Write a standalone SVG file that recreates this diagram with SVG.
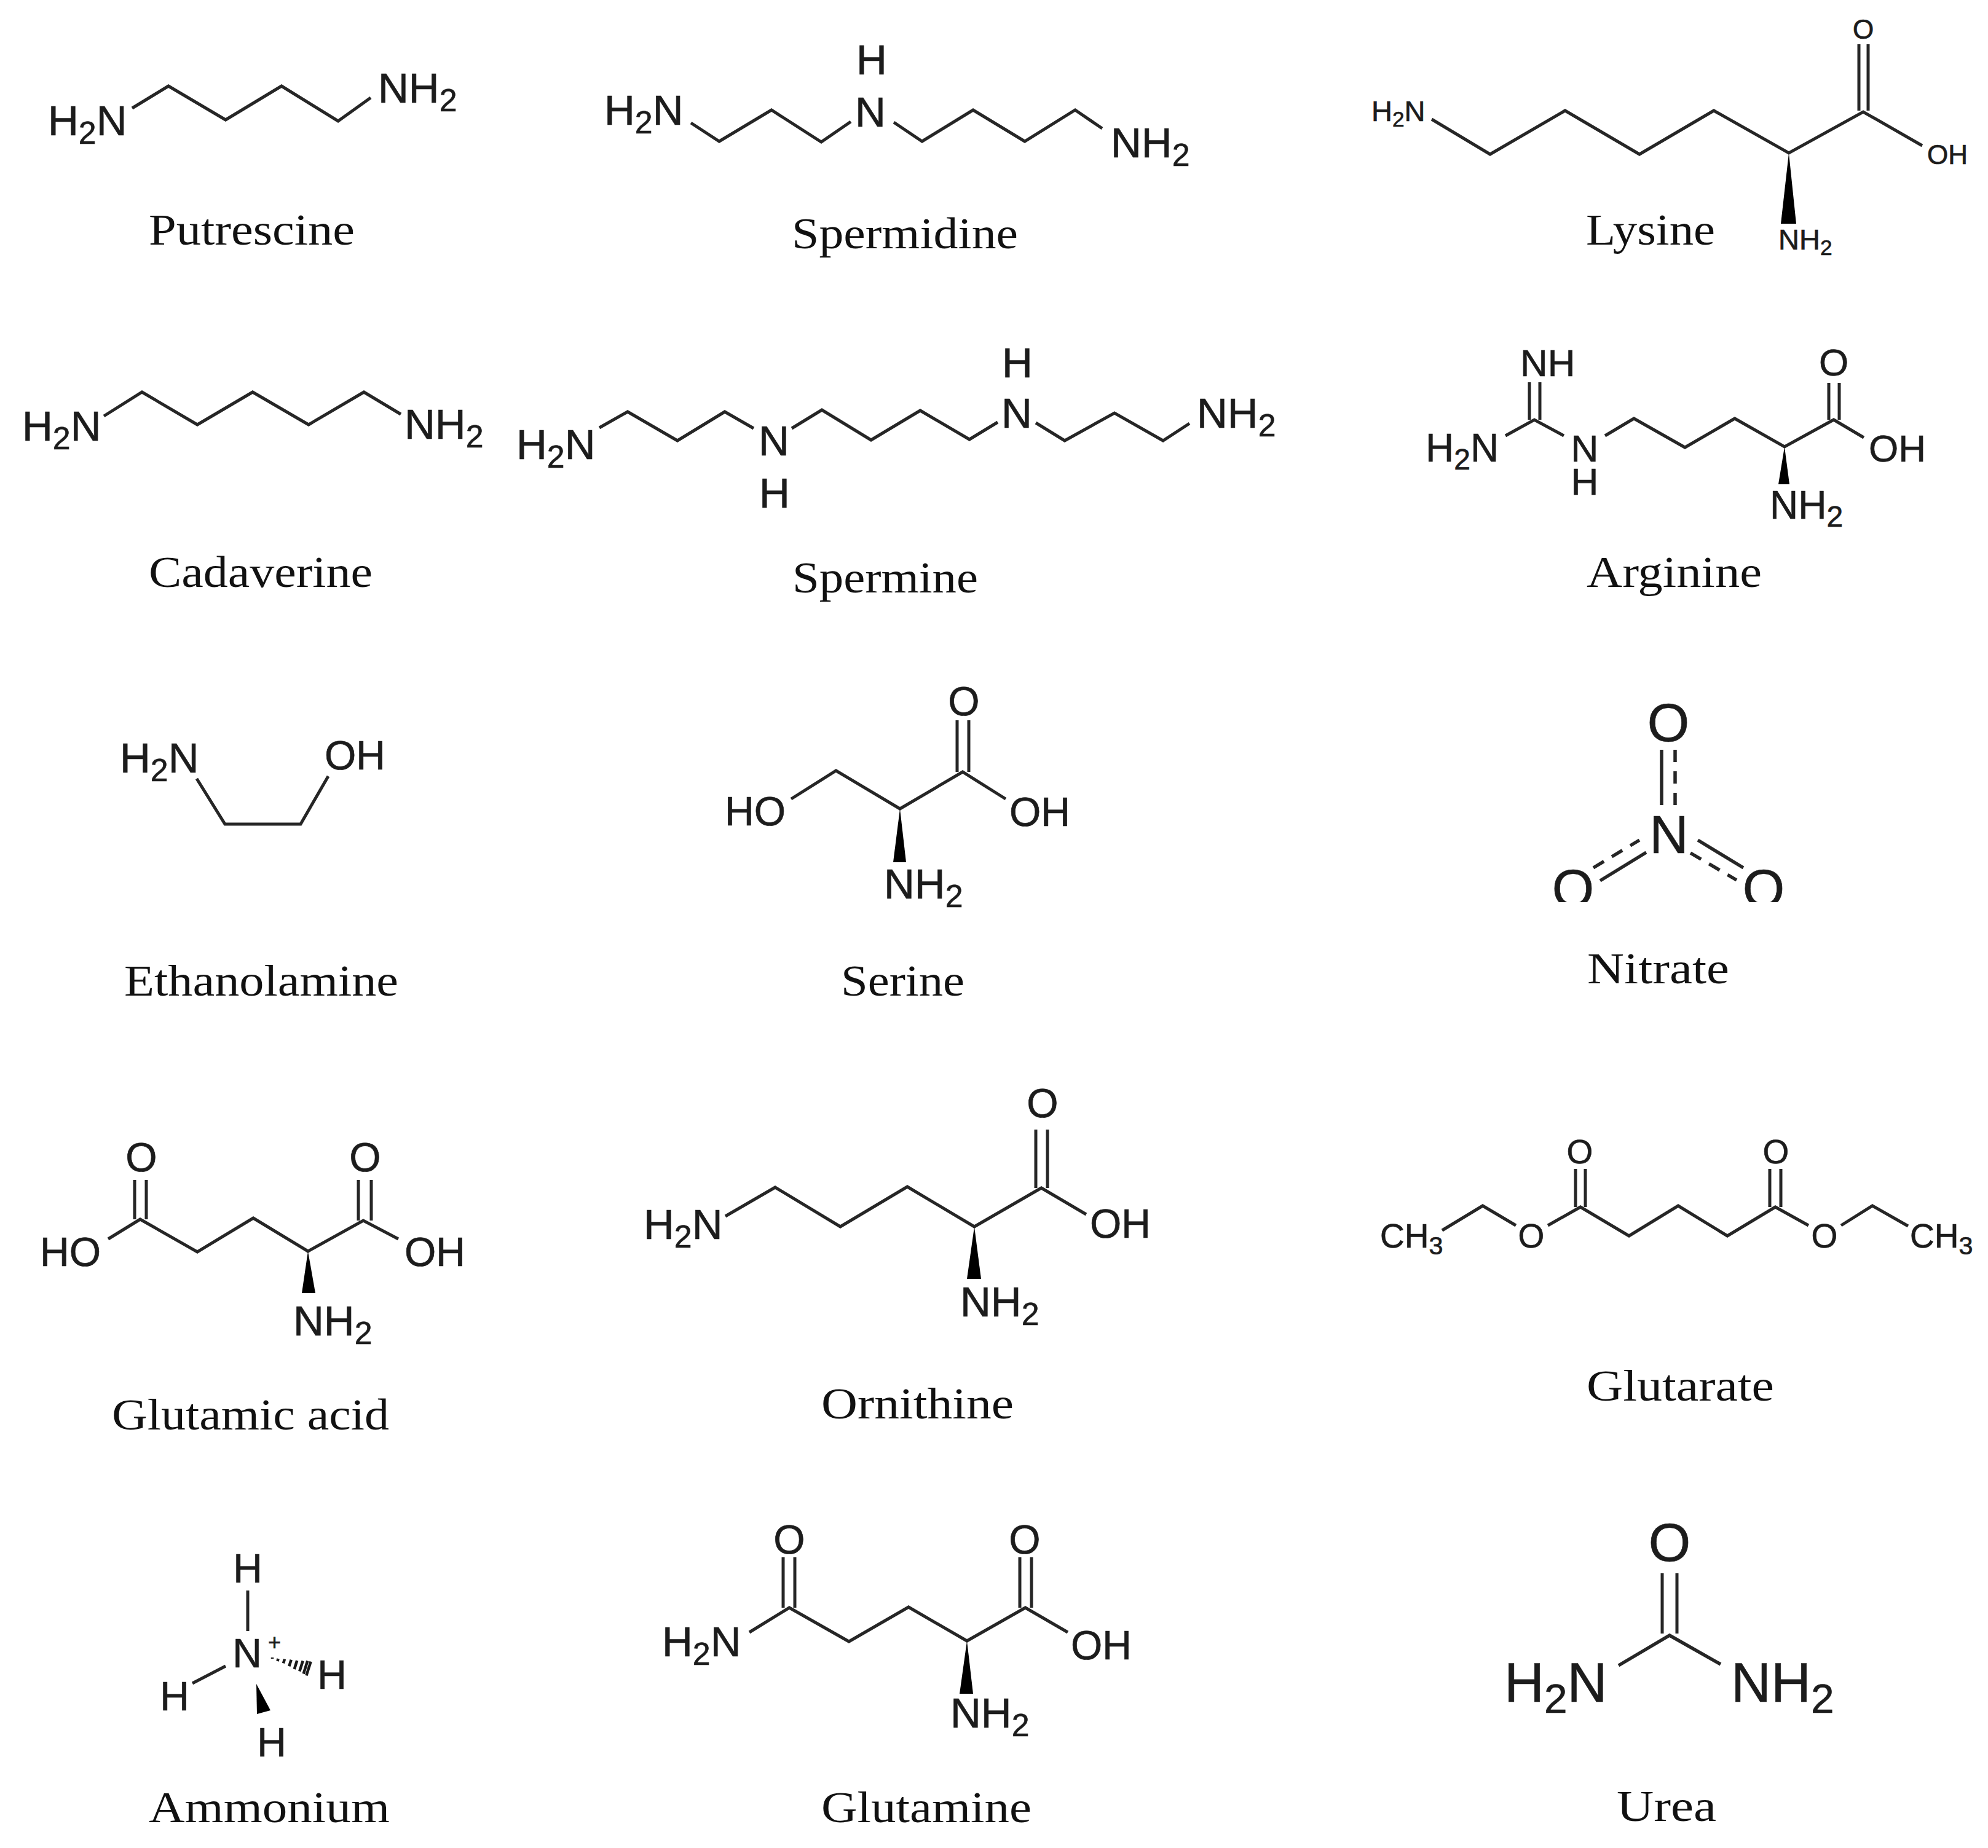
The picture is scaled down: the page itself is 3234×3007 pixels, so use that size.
<svg xmlns="http://www.w3.org/2000/svg" width="3234" height="3007" viewBox="0 0 3234 3007">
<style>
.b{fill:none;stroke:#262626;stroke-width:5;stroke-linejoin:miter}
.t{stroke:#1a1a1a;stroke-width:4.5}
.k{stroke:#262626;stroke-width:5.500}
.w{fill:#000}
text{fill:#1c1c1c}
.a{font-family:"Liberation Sans",Arial,sans-serif;stroke:#1c1c1c;stroke-width:.7}
.f44{font-size:44px}.f55{font-size:55px}.f62{font-size:62px}.f66{font-size:66px}.f88{font-size:88px}
.n44{font-size:47px}.n62{font-size:64px}.n66{font-size:69px}.n88{font-size:90px}
.m{text-anchor:middle}
.l{font-family:"Liberation Serif","Times New Roman",serif;font-size:72px;fill:#111}
.s{font-size:75%}
</style>
<defs><clipPath id="nc"><rect x="2450" y="1100" width="500" height="368"/></clipPath></defs>
<rect width="3234" height="3007" fill="#fff"/>

<g id="putrescine">
<polyline class="b" points="215,176 274,140 367,195 458,140 550,197 603,159"/>
<text class="a n66" x="78" y="220">H<tspan class="s" dy="14">2</tspan><tspan dy="-14">N</tspan></text>
<text class="a n66" x="615" y="167">NH<tspan class="s" dy="14">2</tspan></text>
<text class="l" x="242" y="398" textLength="335" lengthAdjust="spacingAndGlyphs">Putrescine</text>
</g>

<g id="spermidine">
<polyline class="b" points="1124,200 1170,230 1255,179 1336,231 1384,198"/>
<polyline class="b" points="1454,199 1500,230 1583,179 1667,230 1749,179 1793,209"/>
<text class="a n66" x="983" y="203">H<tspan class="s" dy="14">2</tspan><tspan dy="-14">N</tspan></text>
<text class="a n66 m" x="1416" y="206">N</text>
<text class="a n66 m" x="1418" y="121">H</text>
<text class="a n66" x="1807" y="256">NH<tspan class="s" dy="14">2</tspan></text>
<text class="l" x="1288" y="404" textLength="368" lengthAdjust="spacingAndGlyphs">Spermidine</text>
</g>

<g id="lysine">
<polyline class="b" points="2329,194 2424,251 2546,180 2667,251 2788,180 2910,249 3031,182 3127,237"/>
<line class="b" x1="3024" y1="72" x2="3024" y2="180"/><line class="b" x1="3039" y1="72" x2="3039" y2="180"/>
<polygon class="w" points="2910,249 2897,364 2922,364"/>
<text class="a n44" x="2231" y="197">H<tspan class="s" dy="9">2</tspan><tspan dy="-9">N</tspan></text>
<text class="a f44 m" x="3031" y="63">O</text>
<text class="a f44" x="3135" y="267">OH</text>
<text class="a n44" x="2893" y="406">NH<tspan class="s" dy="9">2</tspan></text>
<text class="l" x="2580" y="398" textLength="210" lengthAdjust="spacingAndGlyphs">Lysine</text>
</g>

<g id="cadaverine">
<polyline class="b" points="169,677 231,638 321,691 411,638 502,691 592,638 652,674"/>
<text class="a n66" x="36" y="717">H<tspan class="s" dy="14">2</tspan><tspan dy="-14">N</tspan></text>
<text class="a n66" x="658" y="714">NH<tspan class="s" dy="14">2</tspan></text>
<text class="l" x="242" y="955" textLength="364" lengthAdjust="spacingAndGlyphs">Cadaverine</text>
</g>

<g id="spermine">
<polyline class="b" points="975,696 1021,670 1102,717 1179,670 1226,697"/>
<polyline class="b" points="1288,697 1337,667 1417,716 1497,668 1577,715 1623,687"/>
<polyline class="b" points="1685,688 1732,717 1813,672 1892,717 1935,689"/>
<text class="a n66" x="840" y="747">H<tspan class="s" dy="14">2</tspan><tspan dy="-14">N</tspan></text>
<text class="a n66 m" x="1259" y="741">N</text>
<text class="a n66 m" x="1260" y="826">H</text>
<text class="a n66 m" x="1654" y="696">N</text>
<text class="a n66 m" x="1655" y="614">H</text>
<text class="a n66" x="1947" y="696">NH<tspan class="s" dy="14">2</tspan></text>
<text class="l" x="1289" y="964" textLength="302" lengthAdjust="spacingAndGlyphs">Spermine</text>
</g>

<g id="arginine">
<line class="b" x1="2488" y1="622" x2="2488" y2="683"/><line class="b" x1="2505" y1="622" x2="2505" y2="683"/>
<polyline class="b" points="2449,709 2496,683 2544,709"/>
<polyline class="b" points="2611,709 2658,681 2741,728 2822,681 2903,727 2983,683 3032,712"/>
<line class="b" x1="2975" y1="623" x2="2975" y2="683"/><line class="b" x1="2992" y1="623" x2="2992" y2="683"/>
<polygon class="w" points="2903,727 2893,788 2911,788"/>
<text class="a f62" x="2473" y="612">NH</text>
<text class="a n62" x="2319" y="751">H<tspan class="s" dy="13">2</tspan><tspan dy="-13">N</tspan></text>
<text class="a f62 m" x="2578" y="751">N</text>
<text class="a f62 m" x="2578" y="805">H</text>
<text class="a f62 m" x="2983" y="611">O</text>
<text class="a f62" x="3040" y="751">OH</text>
<text class="a n62" x="2879" y="844">NH<tspan class="s" dy="13">2</tspan></text>
<text class="l" x="2581" y="955" textLength="285" lengthAdjust="spacingAndGlyphs">Arginine</text>
</g>

<g id="ethanolamine">
<polyline class="b" points="320,1267 366,1341 489,1341 534,1263"/>
<text class="a n66" x="195" y="1257">H<tspan class="s" dy="14">2</tspan><tspan dy="-14">N</tspan></text>
<text class="a f66" x="528" y="1252">OH</text>
<text class="l" x="202" y="1620" textLength="446" lengthAdjust="spacingAndGlyphs">Ethanolamine</text>
</g>

<g id="serine">
<polyline class="b" points="1287,1300 1360,1254 1464,1316 1566,1256 1636,1300"/>
<line class="b" x1="1557" y1="1172" x2="1557" y2="1256"/><line class="b" x1="1576" y1="1172" x2="1576" y2="1256"/>
<polygon class="w" points="1464,1316 1453,1403 1474,1403"/>
<text class="a f66" x="1179" y="1343">HO</text>
<text class="a f66 m" x="1568" y="1164">O</text>
<text class="a f66" x="1642" y="1344">OH</text>
<text class="a n66" x="1438" y="1462">NH<tspan class="s" dy="14">2</tspan></text>
<text class="l" x="1368" y="1620" textLength="201" lengthAdjust="spacingAndGlyphs">Serine</text>
</g>

<g id="nitrate">
<line class="k" x1="2703" y1="1220" x2="2703" y2="1310"/>
<line class="k" x1="2725" y1="1220" x2="2725" y2="1310" stroke-dasharray="20 15"/>
<line class="k" x1="2603" y1="1433" x2="2678" y2="1387"/>
<line class="k" x1="2592" y1="1412" x2="2667" y2="1367" stroke-dasharray="20 15"/>
<line class="k" x1="2762" y1="1367" x2="2836" y2="1412"/>
<line class="k" x1="2750" y1="1388" x2="2825" y2="1432" stroke-dasharray="20 15"/>
<text class="a f88 m" x="2714" y="1206">O</text>
<text class="a f88 m" x="2715" y="1388">N</text>
<g clip-path="url(#nc)">
<text class="a f88 m" x="2559" y="1476">O</text>
<text class="a f88 m" x="2869" y="1476">O</text>
</g>
<text class="l" x="2582" y="1600" textLength="231" lengthAdjust="spacingAndGlyphs">Nitrate</text>
</g>

<g id="glutamic-acid">
<polyline class="b" points="176,2016 228,1984 321,2037 412,1982 501,2036 591,1986 648,2016"/>
<line class="b" x1="219" y1="1920" x2="219" y2="1984"/><line class="b" x1="238" y1="1920" x2="238" y2="1984"/>
<line class="b" x1="583" y1="1920" x2="583" y2="1986"/><line class="b" x1="604" y1="1920" x2="604" y2="1986"/>
<polygon class="w" points="501,2036 491,2104 513,2104"/>
<text class="a f66" x="65" y="2060">HO</text>
<text class="a f66 m" x="230" y="1906">O</text>
<text class="a f66 m" x="594" y="1906">O</text>
<text class="a f66" x="658" y="2060">OH</text>
<text class="a n66" x="477" y="2173">NH<tspan class="s" dy="14">2</tspan></text>
<text class="l" x="182" y="2326" textLength="451" lengthAdjust="spacingAndGlyphs">Glutamic acid</text>
</g>

<g id="ornithine">
<polyline class="b" points="1180,1979 1261,1932 1367,1996 1476,1931 1585,1996 1694,1933 1767,1976"/>
<line class="b" x1="1685" y1="1838" x2="1685" y2="1933"/><line class="b" x1="1704" y1="1838" x2="1704" y2="1933"/>
<polygon class="w" points="1585,1996 1573,2081 1596,2081"/>
<text class="a n66" x="1047" y="2016">H<tspan class="s" dy="14">2</tspan><tspan dy="-14">N</tspan></text>
<text class="a f66 m" x="1696" y="1818">O</text>
<text class="a f66" x="1773" y="2014">OH</text>
<text class="a n66" x="1562" y="2142">NH<tspan class="s" dy="14">2</tspan></text>
<text class="l" x="1336" y="2308" textLength="313" lengthAdjust="spacingAndGlyphs">Ornithine</text>
</g>

<g id="glutarate">
<polyline class="b" points="2346,2002 2412,1962 2466,1994"/>
<polyline class="b" points="2518,1994 2571,1964 2650,2011 2730,1962 2810,2011 2888,1964 2942,1994"/>
<polyline class="b" points="2995,1994 3046,1962 3104,1995"/>
<line class="b" x1="2563" y1="1902" x2="2563" y2="1964"/><line class="b" x1="2579" y1="1902" x2="2579" y2="1964"/>
<line class="b" x1="2879" y1="1902" x2="2879" y2="1964"/><line class="b" x1="2897" y1="1902" x2="2897" y2="1964"/>
<text class="a f55" x="2245" y="2030">CH<tspan class="s" dy="11">3</tspan></text>
<text class="a f55 m" x="2491" y="2030">O</text>
<text class="a f55 m" x="2968" y="2030">O</text>
<text class="a f55" x="3107" y="2030">CH<tspan class="s" dy="11">3</tspan></text>
<text class="a f55 m" x="2570" y="1893">O</text>
<text class="a f55 m" x="2889" y="1893">O</text>
<text class="l" x="2581" y="2279" textLength="305" lengthAdjust="spacingAndGlyphs">Glutarate</text>
</g>

<g id="ammonium">
<line class="b" x1="403" y1="2588" x2="403" y2="2654"/>
<line class="b" x1="313" y1="2739" x2="367" y2="2711"/>
<line class="t" x1="443" y1="2697" x2="443" y2="2699"/>
<line class="t" x1="452.600" y1="2699" x2="451.400" y2="2703"/>
<line class="t" x1="463" y1="2699.700" x2="461" y2="2706.300"/>
<line class="t" x1="473.700" y1="2700.800" x2="470.300" y2="2711.200"/>
<line class="t" x1="483.200" y1="2702" x2="478.800" y2="2716"/>
<line class="t" x1="492.700" y1="2702.500" x2="487.300" y2="2719.500"/>
<line class="t" x1="500.300" y1="2702.500" x2="493.700" y2="2723.500"/>
<line class="t" x1="505.600" y1="2703.600" x2="498.400" y2="2726.400"/>
<polygon class="w" points="417,2740 418,2789 440,2783"/>
<text class="a f66 m" x="403" y="2575">H</text>
<text class="a f66 m" x="402" y="2713">N</text>
<text class="a" font-size="36" x="436" y="2685">+</text>
<text class="a f66 m" x="540" y="2748">H</text>
<text class="a f66 m" x="284" y="2783">H</text>
<text class="a f66 m" x="442" y="2858">H</text>
<text class="l" x="242" y="2965" textLength="392" lengthAdjust="spacingAndGlyphs">Ammonium</text>
</g>

<g id="glutamine">
<polyline class="b" points="1219,2656 1284,2616 1381,2671 1478,2615 1573,2670 1668,2616 1737,2656"/>
<line class="b" x1="1274" y1="2534" x2="1274" y2="2616"/><line class="b" x1="1293" y1="2534" x2="1293" y2="2616"/>
<line class="b" x1="1659" y1="2534" x2="1659" y2="2616"/><line class="b" x1="1678" y1="2534" x2="1678" y2="2616"/>
<polygon class="w" points="1573,2670 1561,2756 1583,2756"/>
<text class="a n66" x="1077" y="2695">H<tspan class="s" dy="14">2</tspan><tspan dy="-14">N</tspan></text>
<text class="a f66 m" x="1284" y="2528">O</text>
<text class="a f66 m" x="1667" y="2528">O</text>
<text class="a f66" x="1742" y="2700">OH</text>
<text class="a n66" x="1546" y="2811">NH<tspan class="s" dy="14">2</tspan></text>
<text class="l" x="1336" y="2965" textLength="342" lengthAdjust="spacingAndGlyphs">Glutamine</text>
</g>

<g id="urea">
<line class="b" x1="2704" y1="2560" x2="2704" y2="2658"/><line class="b" x1="2728" y1="2560" x2="2728" y2="2658"/>
<polyline class="k" fill="none" points="2633,2710 2716,2661 2799,2708"/>
<text class="a n88" x="2447" y="2769">H<tspan class="s" dy="18">2</tspan><tspan dy="-18">N</tspan></text>
<text class="a n88" x="2816" y="2769">NH<tspan class="s" dy="18">2</tspan></text>
<text class="a f88 m" x="2716" y="2540">O</text>
<text class="l" x="2630" y="2963" textLength="162" lengthAdjust="spacingAndGlyphs">Urea</text>
</g>
</svg>
